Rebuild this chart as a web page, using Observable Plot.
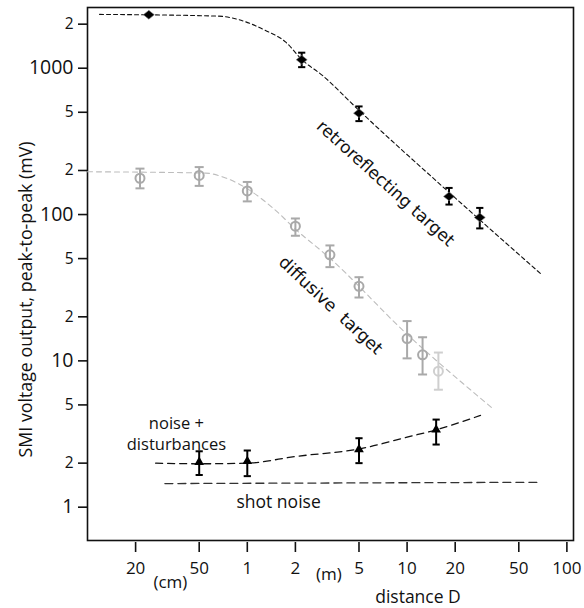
<!DOCTYPE html>
<html>
<head>
<meta charset="utf-8">
<script src="https://cdn.jsdelivr.net/npm/d3@7"></script>
<script src="https://cdn.jsdelivr.net/npm/@observablehq/plot@0.6"></script>
<style>
  html, body { margin: 0; padding: 0; background: #fff; }
  #chart svg { display: block; }
</style>
</head>
<body>
<div id="chart"></div>
<script>
// ---- data ----
// retroreflecting target (black diamonds), distance in m, voltage in mV
const retroX  = [0.242, 2.19, 5, 18.3, 28.5];
const retroY  = [2320, 1143, 493, 133, 95.5];
const retroLo = [null, 1017, 435, 117, 80.4];
const retroHi = [null, 1277, 548, 152, 111];
const retroFitX = [0.119, 0.661, 0.886, 1.30, 1.74, 2.19, 2.95, 5, 20, 68.6];
const retroFitY = [2332, 2270, 2146, 1813, 1508, 1148, 893, 515, 130, 39.4];

// diffusive target (gray circles)
const diffX  = [0.213, 0.5, 1, 2, 3.29, 5, 10, 12.5, 15.7];
const diffY  = [177, 185, 145, 83.3, 53.1, 32.3, 14.2, 11.0, 8.5];
const diffLo = [151, 157, 123, 71.6, 43.7, 27.1, 10.4, 8.07, 6.35];
const diffHi = [206, 211, 167, 94, 61.5, 37.3, 18.7, 14.5, 11.4];
const diffShade = ["a", "a", "a", "a", "a", "a", "a", "a", "b"];
const diffFitX = [0.1, 0.548, 0.731, 1.02, 1.43, 2.10, 3.09, 10, 33.9];
const diffFitY = [196, 192, 178, 148, 112, 75.8, 53.4, 15.2, 4.78];

// noise + disturbances (black triangles)
const noiseX  = [0.5, 1, 5, 15.2];
const noiseY  = [2.03, 2.06, 2.48, 3.38];
const noiseLo = [1.66, 1.63, 2.0, 2.68];
const noiseHi = [2.41, 2.44, 2.96, 3.97];
const noiseFitX = [0.267, 0.5, 1, 2, 5.3, 10, 15.2, 28.8];
const noiseFitY = [2.0, 1.98, 2.0, 2.22, 2.53, 3.01, 3.38, 4.24];

// shot noise
const shotX = [0.305, 65.5];
const shotY = [1.45, 1.48];

// axis ticks
const xTicks = [0.2, 0.5, 1, 2, 5, 10, 20, 50, 100];
const xTickLabels = ["20", "50", "1", "2", "5", "10", "20", "50", "100"];
const yMajorTicks = [1, 10, 100, 1000];
const yMajorLabels = ["1", "10", "100", "1000"];
const yMinorTicks = [2, 5, 20, 50, 200, 500, 2000];
const yMinorLabels = ["2", "5", "2", "5", "2", "5", "2"];

// ---- build tables ----
const zip = (xs, ys) => xs.map((x, i) => ({x, y: ys[i]}));
const retro = retroX.map((x, i) => ({x, y: retroY[i], lo: retroLo[i], hi: retroHi[i]}));
const retroBars = retro.filter(d => d.lo != null);
const diff = diffX.map((x, i) => ({x, y: diffY[i], lo: diffLo[i], hi: diffHi[i], shade: diffShade[i]}));
const noise = noiseX.map((x, i) => ({x, y: noiseY[i], lo: noiseLo[i], hi: noiseHi[i]}));
const xTickData = zip(xTicks, xTickLabels);
const yMajorData = zip(yMajorTicks, yMajorLabels);
const yMinorData = zip(yMinorTicks, yMinorLabels);

const cap = { draw(ctx, size) { const r = Math.sqrt(size / Math.PI); ctx.moveTo(-r, 0); ctx.lineTo(r, 0); } };
const wideDiamond = { draw(ctx, size) { const r = Math.sqrt(size / Math.PI); const h = r * 0.8; ctx.moveTo(-r, 0); ctx.lineTo(0, -h); ctx.lineTo(r, 0); ctx.lineTo(0, h); ctx.closePath(); } };

const shadeColor = s => s === "b" ? "#cfcfcf" : "#a9a9a9";
const font = "'Open Sans', Lato, sans-serif";
const labelFont = "'DejaVu Sans', sans-serif";

const chart = Plot.plot({
  width: 584,
  height: 608,
  marginLeft: 87,
  marginRight: 11,
  marginTop: 7,
  marginBottom: 68,
  style: { fontFamily: font, color: "#111", background: "#fff" },
  x: { type: "log", domain: [0.1, 110] },
  y: { type: "log", domain: [0.592, 2600] },
  marks: [
    Plot.frame({ stroke: "#111", strokeWidth: 1.6 }),
    // axes (tick lines from the library, labels as text marks)
    Plot.axisY([...yMajorTicks, ...yMinorTicks], { tickSize: 9, strokeWidth: 1.6, text: null, label: null }),
    Plot.axisX(xTicks, { tickSize: 10, strokeWidth: 1.6, dy: 2, text: null, label: null }),
    Plot.text(yMajorData, { y: "x", text: "y", frameAnchor: "left", textAnchor: "end", dx: -14, fontSize: 19.5, fill: "#111" }),
    Plot.text(yMinorData, { y: "x", text: "y", frameAnchor: "left", textAnchor: "end", dx: -14, fontSize: 15.5, fill: "#111" }),
    Plot.text(xTickData, { x: "x", text: "y", frameAnchor: "bottom", lineAnchor: "middle", dy: 28, fontSize: 17, fill: "#111" }),
    Plot.text(["SMI voltage output, peak-to-peak (mV)"], { y: [26.3], frameAnchor: "left", dx: -61,
      rotate: -90, textAnchor: "middle", lineAnchor: "middle", fontSize: 17.8, fill: "#111" }),
    Plot.text(["(cm)"], { x: [0.33], frameAnchor: "bottom", lineAnchor: "middle", dy: 42, fontSize: 17, fill: "#111" }),
    Plot.text(["(m)"], { x: [3.24], frameAnchor: "bottom", lineAnchor: "middle", dy: 34, fontSize: 17, fill: "#111" }),
    Plot.text(["distance D"], { x: [11.7], frameAnchor: "bottom", lineAnchor: "middle", dy: 57, fontSize: 17.5, fill: "#111" }),

    // fit curves
    Plot.line(zip(shotX, shotY), { x: "x", y: "y", stroke: "#333", strokeWidth: 1.3, strokeDasharray: "8,5" }),
    Plot.line(zip(noiseFitX, noiseFitY), { x: "x", y: "y", curve: "monotone-x", stroke: "#111", strokeWidth: 1.3, strokeDasharray: "7,5" }),
    Plot.line(zip(diffFitX, diffFitY), { x: "x", y: "y", curve: "monotone-x", stroke: "#bdbdbd", strokeWidth: 1.1, strokeDasharray: "5,4" }),
    Plot.line(zip(retroFitX, retroFitY), { x: "x", y: "y", curve: "monotone-x", stroke: "#111", strokeWidth: 1.1, strokeDasharray: "4,3" }),

    // diffusive points
    Plot.ruleX(diff, { x: "x", y1: "lo", y2: "hi", stroke: d => shadeColor(d.shade), strokeWidth: 2 }),
    Plot.dot(diff, { x: "x", y: "lo", symbol: cap, r: 4.5, stroke: d => shadeColor(d.shade), strokeWidth: 2 }),
    Plot.dot(diff, { x: "x", y: "hi", symbol: cap, r: 4.5, stroke: d => shadeColor(d.shade), strokeWidth: 2 }),
    Plot.dot(diff, { x: "x", y: "y", r: 4.5, fill: "none", stroke: d => shadeColor(d.shade), strokeWidth: 2 }),

    // retro points
    Plot.ruleX(retroBars, { x: "x", y1: "lo", y2: "hi", stroke: "#000", strokeWidth: 2 }),
    Plot.dot(retroBars, { x: "x", y: "lo", symbol: cap, r: 3.6, stroke: "#000", strokeWidth: 2 }),
    Plot.dot(retroBars, { x: "x", y: "hi", symbol: cap, r: 3.6, stroke: "#000", strokeWidth: 2 }),
    Plot.dot(retro, { x: "x", y: "y", symbol: wideDiamond, r: 5.5, fill: "#000", stroke: "#888", strokeWidth: 0.6 }),

    // noise points
    Plot.ruleX(noise, { x: "x", y1: "lo", y2: "hi", stroke: "#000", strokeWidth: 2 }),
    Plot.dot(noise, { x: "x", y: "lo", symbol: cap, r: 3.6, stroke: "#000", strokeWidth: 2 }),
    Plot.dot(noise, { x: "x", y: "hi", symbol: cap, r: 3.6, stroke: "#000", strokeWidth: 2 }),
    Plot.dot(noise, { x: "x", y: "y", symbol: "triangle", r: 3.6, fill: "#000" }),

    // annotations
    Plot.text(["retroreflecting target"], { x: [7.33], y: [163], rotate: 42, fontSize: 17, fontFamily: labelFont, fill: "#111" }),
    Plot.text(["diffusive\u00a0 target"], { x: [3.32], y: [23.9], rotate: 43, fontSize: 17, fontFamily: labelFont, fill: "#111" }),
    Plot.text(["noise +\ndisturbances"], { x: [0.36], y: [3.22], lineHeight: 1.3, fontSize: 16.5, fill: "#111" }),
    Plot.text(["shot noise"], { x: [1.57], y: [1.077], fontSize: 17.5, fill: "#111" })
  ]
});
document.getElementById("chart").appendChild(chart);
</script>
</body>
</html>
